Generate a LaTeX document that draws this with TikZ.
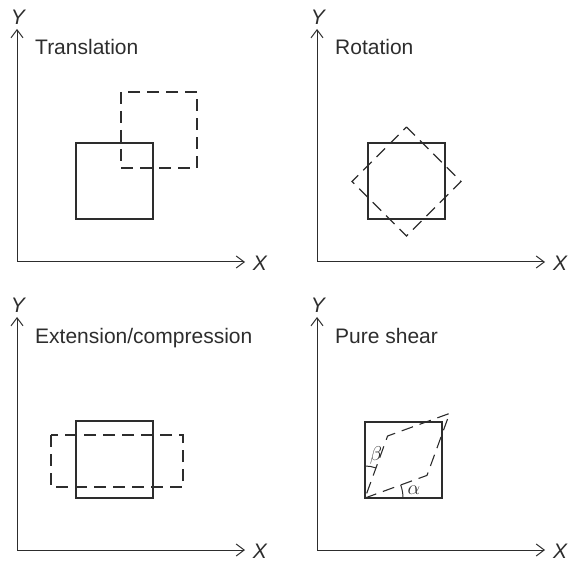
\documentclass[tikz,border=0pt]{standalone}
\usepackage{fontspec}
\setmainfont{Liberation Sans}
\usepackage{fix-cm}
\usetikzlibrary{arrows.meta}
\definecolor{ink}{RGB}{45,45,45}
\begin{document}
\begin{tikzpicture}[x=1pt,y=-1pt,
  axis/.style={draw=ink,line width=1pt,-{Straight Barb[length=8pt,width=12pt,line width=1pt]}},
  solidbox/.style={draw=ink,line width=1.1pt},
  dashbox/.style={draw=ink,line width=1.1pt,dash pattern=on 12pt off 7pt},
  title/.style={anchor=base west,text=ink,font=\fontsize{21}{24}\selectfont,inner sep=0pt},
  axlabel/.style={text=ink,font=\fontsize{21}{24}\selectfont\itshape,inner sep=0pt},
  angarc/.style={draw=ink,line width=1pt},
  anglabel/.style={text=ink,font=\fontsize{20}{23}\selectfont,inner sep=0pt}]
\useasboundingbox (0,0) rectangle (568,564);
% ---------- panel 1: translation
\coordinate (o1) at (17,262);
\coordinate (y1) at (17,29);
\coordinate (x1) at (245,262);
\draw[axis] (o1) -- (y1);
\draw[axis] (o1) -- (x1);
\node[axlabel] (Y1) at (18,17) {Y};
\node[axlabel] (X1) at (260,263) {X};
\node[title] (T1) at (35,55) {Translation};
\draw[solidbox] (76,143) rectangle (153,219);
\draw[dashbox] (121,92) rectangle (197,168);
% ---------- panel 2: rotation
\coordinate (o2) at (317,262);
\coordinate (y2) at (317,29);
\coordinate (x2) at (545,262);
\draw[axis] (o2) -- (y2);
\draw[axis] (o2) -- (x2);
\node[axlabel] (Y2) at (318,17) {Y};
\node[axlabel] (X2) at (560,263) {X};
\node[title] (T2) at (335,55) {Rotation};
\draw[solidbox] (368,143) rectangle (445,219);
\draw[dashbox] (406.5,127) -- (461,181.5) -- (406.5,236) -- (352,181.5) -- cycle;
% ---------- panel 3: extension/compression
\coordinate (o3) at (17,550);
\coordinate (y3) at (17,317);
\coordinate (x3) at (245,550);
\draw[axis] (o3) -- (y3);
\draw[axis] (o3) -- (x3);
\node[axlabel] (Y3) at (18,305) {Y};
\node[axlabel] (X3) at (260,551) {X};
\node[title] (T3) at (35,343) {Extension/compression};
\draw[solidbox] (76,421) rectangle (153,498);
\draw[dashbox] (51,435) rectangle (183,487);
% ---------- panel 4: pure shear
\coordinate (o4) at (317,550);
\coordinate (y4) at (317,317);
\coordinate (x4) at (545,550);
\draw[axis] (o4) -- (y4);
\draw[axis] (o4) -- (x4);
\node[axlabel] (Y4) at (318,305) {Y};
\node[axlabel] (X4) at (560,551) {X};
\node[title] (T4) at (335,343) {Pure shear};
\draw[solidbox] (365,422) rectangle (442,498);
\coordinate (A) at (365,498);
\coordinate (B) at (427,475.4);
\coordinate (C) at (449.6,413.4);
\coordinate (D) at (387.6,436);
\draw[dashbox] (A) -- (B) -- (C) -- (D) -- cycle;
\draw[angarc] (A) ++(-90:32) arc[start angle=-90,end angle=-70,radius=32];
\draw[angarc] (A) ++(0:38) arc[start angle=0,end angle=-20,radius=38];
\node[anglabel] (beta) at (376,455) {$\beta$};
\node[anglabel] (alpha) at (414,490) {$\alpha$};
\end{tikzpicture}
\end{document}
